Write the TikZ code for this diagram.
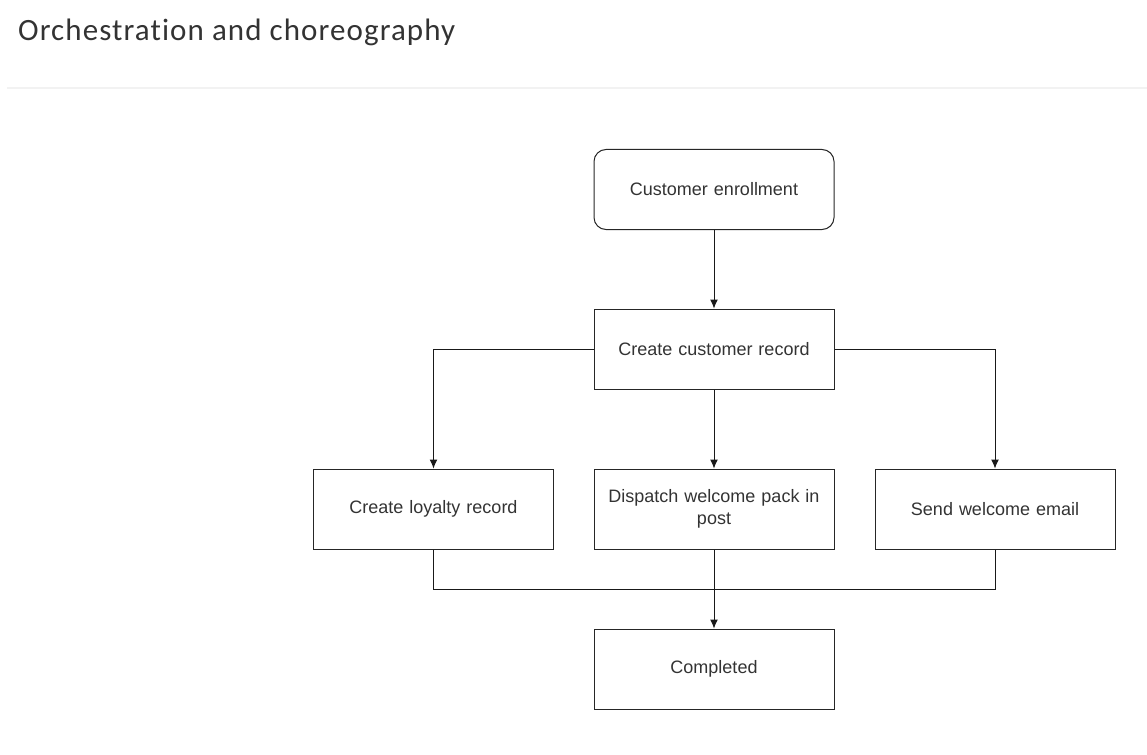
\documentclass[tikz,border=0pt]{standalone}
\usepackage{fontspec}
\setmainfont{Liberation Sans}
\newfontfamily\titlefont[Ligatures={NoCommon,NoRare},LetterSpace=3.5]{Carlito}
\usetikzlibrary{arrows.meta,positioning}
\definecolor{txt}{HTML}{333333}
\definecolor{sep}{HTML}{F2F2F2}
\begin{document}
\begin{tikzpicture}[x=1pt,y=-1pt,
  box/.style={draw=black!85,line width=1pt,minimum width=240pt,minimum height=80pt,inner sep=0pt,
    font=\fontsize{18}{22}\selectfont,text=txt,align=center,text width=220pt},
  rbox/.style={box,rounded corners=12pt},
  conn/.style={line width=1pt,draw=black!90},
  arr/.style={conn,-{Latex[length=9pt,width=8pt]}}]
\useasboundingbox (0,0) rectangle (1147,754);
\node[anchor=base west,font=\titlefont\fontsize{31}{36}\selectfont,text=txt,inner sep=0pt] (title) at (18,41) {Orchestration and choreography};
\coordinate (sepL) at (7,88);
\coordinate (sepR) at (1147,88);
\draw[sep,line width=2pt] (sepL) -- (sepR);
\node[rbox] (enroll) at (714,189.5) {Customer enrollment};
\node[box] (record) at (714,349) {Create customer record};
\node[box] (loyalty) at (433.5,509) {Create loyalty record};
\node[box] (dispatch) at (714,509) {Dispatch welcome pack in\\post};
\node[box] (email) at (995,509) {Send welcome email};
\node[box] (done) at (714,669) {Completed};
\coordinate (busL) at (433.5,589);
\draw[arr] (enroll) -- (record);
\draw[arr] (record.west) -| (loyalty.north);
\draw[arr] (record) -- (dispatch);
\draw[arr] (record.east) -| (email.north);
\draw[conn] (loyalty.south) -- (busL) -| (email.south);
\draw[arr] (dispatch) -- (done);
\end{tikzpicture}
\end{document}
